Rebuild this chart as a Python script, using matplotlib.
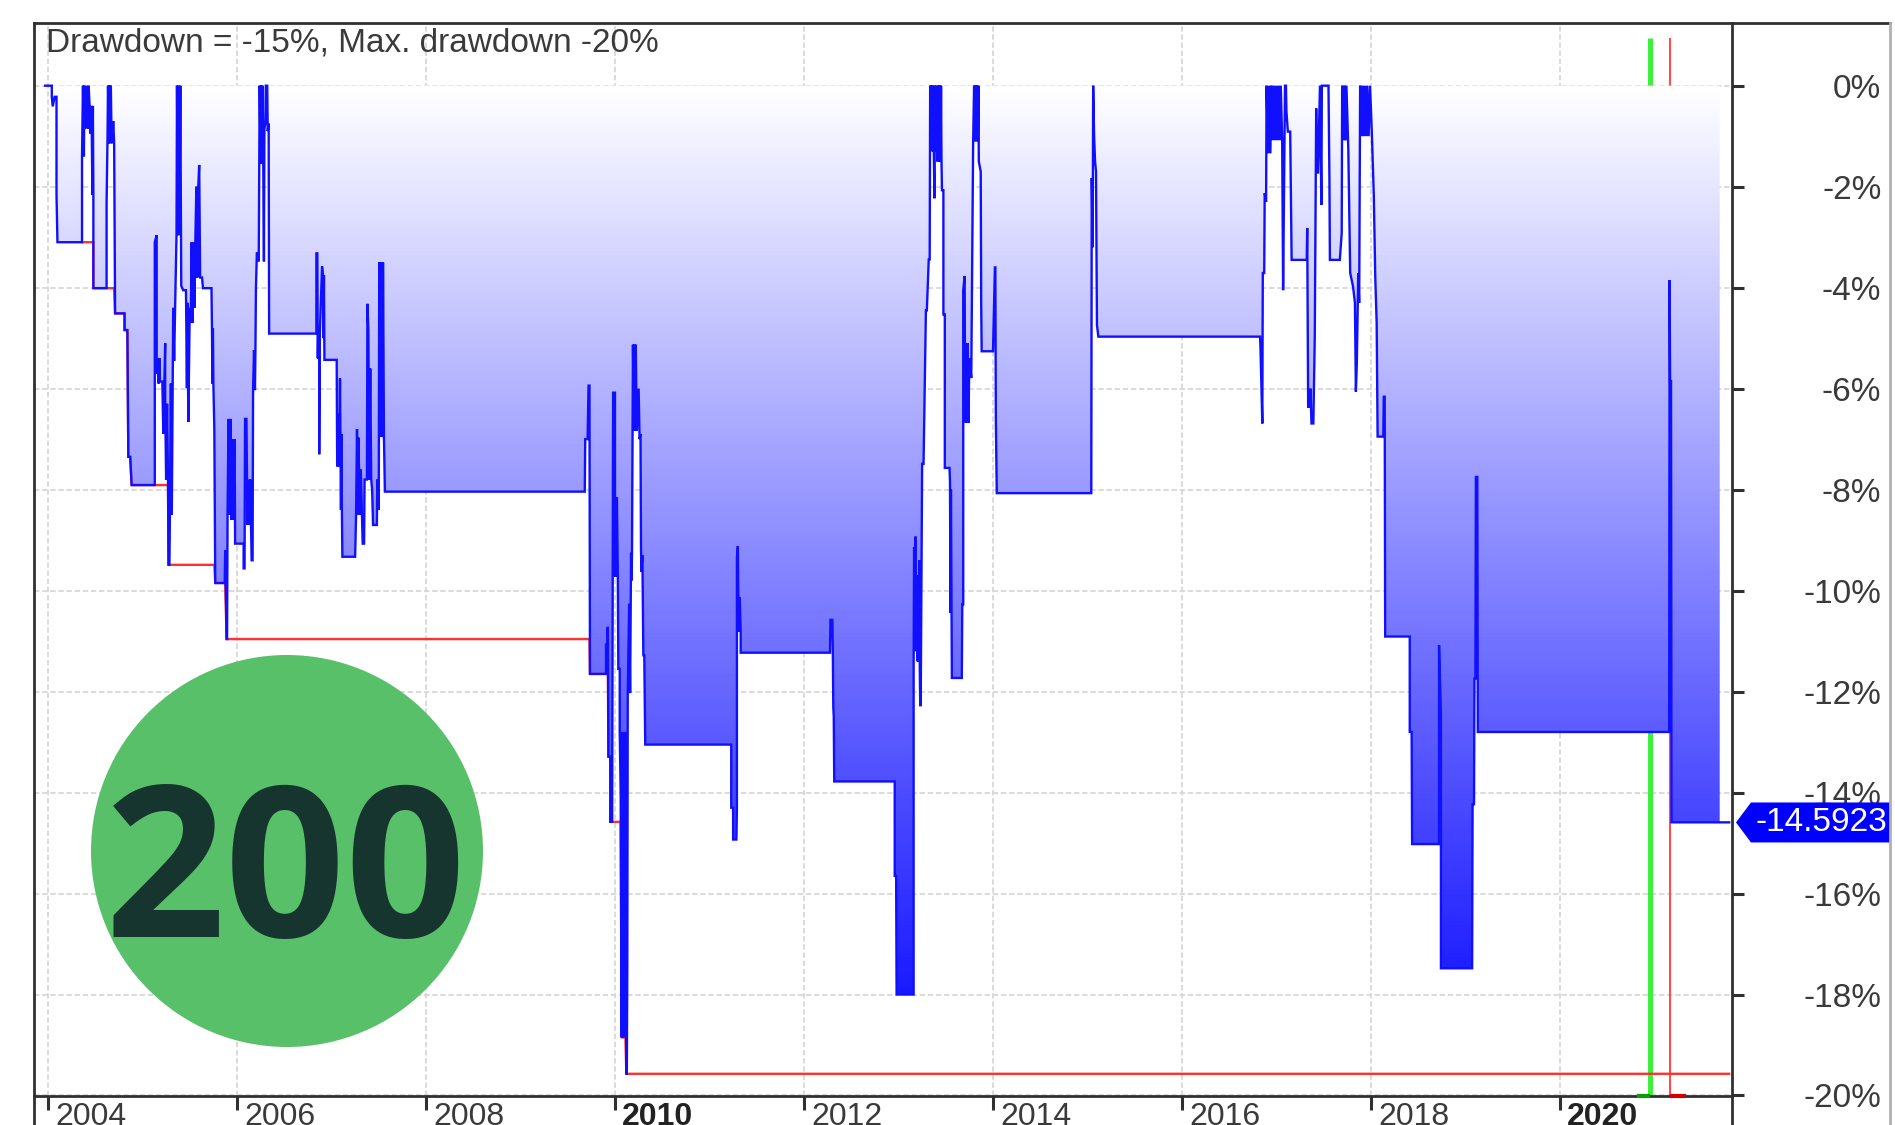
import numpy as np
import matplotlib
matplotlib.use('Agg')
import matplotlib.pyplot as plt
from matplotlib.colors import LinearSegmentedColormap
from matplotlib.patches import Circle, Polygon
from matplotlib.transforms import ScaledTranslation

plt.rcParams['font.family'] = ['Liberation Sans', 'DejaVu Sans']

# Drawdown curve, year / percent, one pair of lists per stretch
years_2004 = [2003.97, 2004.04, 2004.04, 2004.05, 2004.07, 2004.09, 2004.09, 2004.10, 2004.36, 2004.36,
              2004.37, 2004.38, 2004.385, 2004.40, 2004.41, 2004.425, 2004.43, 2004.44, 2004.45, 2004.46,
              2004.47, 2004.475, 2004.48, 2004.48, 2004.62, 2004.62, 2004.63, 2004.635, 2004.645, 2004.65,
              2004.66, 2004.665, 2004.67, 2004.68, 2004.69, 2004.70, 2004.71, 2004.81, 2004.81, 2004.84,
              2004.85, 2004.87, 2004.885]
values_2004 = [0, 0, -0.22, -0.41, -0.22, -0.22, -2.16, -3.10, -3.10, -1.40,
               0, -1.40, 0, -0.85, 0, -0.85, 0, -0.40, -0.95, -0.40,
               -2.16, -0.40, -2.16, -4.01, -4.01, -2.33, -1.0, 0, -1.14, 0,
               -1.14, 0, -0.7, -1.14, -0.7, -1.14, -4.51, -4.51, -4.84, -4.84,
               -7.35, -7.35, -7.91]

years_2005 = [2005.13, 2005.13, 2005.15, 2005.15, 2005.16, 2005.17, 2005.18, 2005.185, 2005.21, 2005.22,
              2005.24, 2005.24, 2005.25, 2005.26, 2005.27, 2005.275, 2005.285, 2005.29, 2005.30, 2005.31,
              2005.32, 2005.325, 2005.335, 2005.345, 2005.36, 2005.365, 2005.375, 2005.38, 2005.39, 2005.40,
              2005.41, 2005.43, 2005.46, 2005.47, 2005.475, 2005.485, 2005.50, 2005.51, 2005.52, 2005.53,
              2005.54, 2005.55, 2005.56, 2005.57, 2005.58, 2005.59, 2005.60, 2005.61, 2005.63, 2005.64,
              2005.73, 2005.735, 2005.74, 2005.745, 2005.75, 2005.76, 2005.77, 2005.87, 2005.875, 2005.89,
              2005.895]
values_2005 = [-7.91, -3.10, -2.96, -5.7, -5.4, -5.9, -5.4, -5.86, -5.86, -6.89,
               -5.1, -6.3, -7.8, -6.3, -7.8, -9.49, -9.49, -8.5, -5.9, -8.5,
               -5.9, -4.4, -5.45, -4.4, -2.96, 0, -2.96, 0, -2.96, 0,
               -3.96, -4.05, -4.05, -5.99, -4.3, -6.66, -4.4, -4.7, -3.1, -4.7,
               -3.1, -4.4, -3.0, -2.0, -3.8, -2.0, -1.57, -3.8, -3.8, -4.01,
               -4.01, -4.8, -5.9, -4.8, -5.9, -6.8, -9.85, -9.85, -9.2, -10.96,
               -10.96]

years_2006 = [2005.90, 2005.91, 2005.92, 2005.93, 2005.94, 2005.95, 2005.96, 2005.975, 2005.98, 2006.07,
              2006.07, 2006.08, 2006.085, 2006.10, 2006.11, 2006.12, 2006.135, 2006.14, 2006.155, 2006.165,
              2006.17, 2006.18, 2006.19, 2006.195, 2006.20, 2006.21, 2006.22, 2006.23, 2006.235, 2006.24,
              2006.25, 2006.255, 2006.26, 2006.27, 2006.275, 2006.285, 2006.29, 2006.30, 2006.305, 2006.32,
              2006.325, 2006.335, 2006.34, 2006.84, 2006.84, 2006.85, 2006.855, 2006.86, 2006.865, 2006.87,
              2006.87, 2006.875, 2006.90, 2006.91, 2006.915, 2006.92, 2006.925]
values_2006 = [-8.5, -6.6, -8.5, -6.6, -8.6, -7.0, -8.6, -7.0, -9.07, -9.07,
               -9.56, -9.56, -6.6, -6.6, -8.7, -7.8, -8.7, -7.8, -9.4, -9.4,
               -6.03, -5.24, -6.03, -5.24, -4.05, -3.32, -3.32, -3.48, -1.54, 0,
               -1.54, 0, -1.54, 0, -0.75, -3.48, -0.85, -0.75, 0, 0,
               -0.9, -0.75, -4.91, -4.91, -3.32, -3.32, -5.4, -4.8, -5.4, -4.8,
               -7.3, -5.0, -3.58, -3.75, -5.0, -3.75, -5.43]

years_2007 = [2007.055, 2007.06, 2007.07, 2007.08, 2007.09, 2007.10, 2007.105, 2007.11, 2007.115, 2007.25,
              2007.26, 2007.27, 2007.28, 2007.285, 2007.30, 2007.31, 2007.33, 2007.345, 2007.35, 2007.375,
              2007.38, 2007.39, 2007.40, 2007.41, 2007.42, 2007.43, 2007.44, 2007.48, 2007.485, 2007.50,
              2007.505, 2007.52, 2007.525, 2007.54, 2007.545, 2007.555, 2007.565]
values_2007 = [-5.43, -7.54, -6.5, -7.54, -5.8, -8.4, -6.9, -8.4, -9.33, -9.33,
               -8.5, -6.8, -8.5, -6.97, -8.5, -7.6, -9.07, -9.07, -7.8, -7.8,
               -4.32, -4.84, -7.8, -5.6, -7.8, -8.0, -8.7, -8.7, -7.8, -8.4,
               -3.5, -6.95, -3.5, -6.95, -3.5, -6.95, -8.04]

years_2009 = [2009.68, 2009.685, 2009.71, 2009.72, 2009.73, 2009.735, 2009.905, 2009.905, 2009.92, 2009.92,
              2009.925, 2009.93, 2009.95, 2009.95, 2009.97, 2009.98, 2010.0, 2010.0, 2010.01, 2010.015,
              2010.02, 2010.03, 2010.035, 2010.05, 2010.05, 2010.06, 2010.07, 2010.08, 2010.09, 2010.10,
              2010.105, 2010.11, 2010.12, 2010.125, 2010.13, 2010.135, 2010.15, 2010.16, 2010.17, 2010.175,
              2010.18, 2010.19, 2010.20, 2010.205, 2010.215, 2010.22, 2010.23, 2010.25, 2010.26, 2010.27,
              2010.275, 2010.28, 2010.29, 2010.30, 2010.31, 2010.32]
values_2009 = [-8.04, -7.0, -7.0, -5.94, -5.94, -11.65, -11.65, -11.07, -11.07, -10.74,
               -10.74, -13.29, -13.29, -14.58, -14.58, -6.08, -6.08, -9.73, -8.15, -9.73,
               -8.15, -9.73, -11.55, -11.55, -12.8, -14.0, -18.85, -12.8, -18.85, -12.8,
               -17.5, -12.8, -19.57, -19.57, -17.5, -12.03, -10.26, -12.03, -9.25, -9.8,
               -9.25, -5.13, -6.83, -5.13, -6.83, -5.13, -6.83, -6.0, -7.0, -6.9,
               -9.15, -9.63, -9.3, -11.28, -11.28, -13.05]

years_2011 = [2011.23, 2011.23, 2011.25, 2011.25, 2011.285, 2011.29, 2011.29, 2011.30, 2011.305, 2011.31,
              2011.32, 2011.33, 2011.33, 2012.275, 2012.28, 2012.30, 2012.305, 2012.31, 2012.315, 2012.32,
              2012.96, 2012.96, 2012.975, 2012.98, 2013.16]
values_2011 = [-13.05, -14.3, -14.3, -14.93, -14.93, -14.3, -9.35, -9.12, -10.13, -10.81,
               -10.13, -10.81, -11.23, -11.23, -10.58, -10.58, -11.23, -12.3, -12.5, -13.78,
               -13.78, -15.65, -15.65, -18.0, -18.0]

years_2013 = [2013.16, 2013.165, 2013.175, 2013.18, 2013.185, 2013.19, 2013.2, 2013.205, 2013.21, 2013.22,
              2013.225, 2013.23, 2013.235, 2013.25, 2013.265, 2013.29, 2013.30, 2013.32, 2013.33, 2013.335,
              2013.345, 2013.35, 2013.36, 2013.365, 2013.38, 2013.385, 2013.395, 2013.40, 2013.41, 2013.42,
              2013.43, 2013.435, 2013.445, 2013.45, 2013.455, 2013.46, 2013.475, 2013.475, 2013.49, 2013.49,
              2013.54, 2013.545, 2013.55, 2013.555, 2013.56, 2013.565, 2013.67, 2013.675, 2013.685, 2013.685,
              2013.70, 2013.705, 2013.71, 2013.72, 2013.73, 2013.74, 2013.75, 2013.77, 2013.79, 2013.80,
              2013.81, 2013.815, 2013.825, 2013.83, 2013.84, 2013.845, 2013.85, 2013.87, 2013.875, 2013.88,
              2014.0, 2014.02, 2014.025, 2014.03, 2014.04]
values_2013 = [-11.54, -9.14, -11.0, -8.93, -11.2, -9.7, -11.4, -9.7, -11.4, -9.4,
               -11.54, -12.27, -12.27, -7.49, -7.49, -4.45, -4.45, -3.44, -3.44, 0,
               -1.0, 0, -1.3, 0, -2.23, 0, -1.3, 0, -1.5, 0,
               -1.5, 0, -1.5, 0, -1.5, -2.07, -2.07, -4.53, -4.53, -7.57,
               -7.57, -7.85, -10.44, -8.0, -9.99, -11.73, -11.73, -10.27, -10.27, -4.05,
               -3.77, -6.68, -5.3, -6.68, -5.1, -6.68, -5.4, -5.79, -1.1, 0,
               -1.1, 0, -1.1, 0, -1.1, 0, -1.5, -1.7, -4.3, -5.26,
               -5.26, -3.6, -3.6, -6.6, -8.07]

years_2015 = [2015.04, 2015.045, 2015.055, 2015.06, 2015.07, 2015.08, 2015.09, 2015.10, 2015.115, 2016.826,
              2016.83, 2016.85, 2016.855, 2016.87, 2016.875, 2016.89, 2016.895, 2016.91, 2016.92, 2016.935,
              2016.945, 2016.96, 2016.97, 2016.985, 2016.995, 2017.01, 2017.02, 2017.035, 2017.045, 2017.06,
              2017.07, 2017.09, 2017.10, 2017.105, 2017.12, 2017.145, 2017.16, 2017.32, 2017.325, 2017.335,
              2017.35, 2017.36, 2017.37, 2017.39, 2017.405, 2017.42, 2017.43, 2017.44, 2017.46, 2017.475,
              2017.48, 2017.55, 2017.555, 2017.56, 2017.565, 2017.67, 2017.69, 2017.695, 2017.71, 2017.72,
              2017.73, 2017.74, 2017.76, 2017.78, 2017.81, 2017.83, 2017.84, 2017.85, 2017.865, 2017.875,
              2017.885, 2017.90, 2017.91, 2017.925, 2017.935, 2017.95, 2017.96, 2017.975, 2017.99, 2018.01,
              2018.03, 2018.045, 2018.06, 2018.07, 2018.13, 2018.135, 2018.145, 2018.15]
values_2015 = [-8.07, -1.83, -3.2, 0, -1.0, -1.5, -1.7, -4.74, -4.97, -4.97,
               -5.17, -6.69, -3.71, -3.71, -2.13, -2.3, 0, -1.34, 0, -1.34,
               0, -1.08, 0, -1.08, 0, -1.08, 0, -1.08, 0, -1.08,
               -4.05, 0, 0, -0.5, -0.91, -0.91, -3.45, -3.45, -2.82, -6.36,
               -6.36, -6.0, -6.69, -6.69, -4.97, -0.45, -1.72, -1.72, 0, -2.36,
               0, 0, -0.9, -1.83, -3.45, -3.45, -2.92, 0, -1.08, 0,
               -1.08, 0, -1.27, -3.71, -3.98, -4.3, -6.06, -5.5, -3.71, -4.3,
               0, -1.0, 0, -1.0, 0, -1.0, 0, -1.0, 0, -1.0,
               -2.2, -3.78, -4.7, -6.95, -6.95, -6.16, -6.16, -10.91]

years_2018 = [2018.41, 2018.41, 2018.43, 2018.435, 2018.72, 2018.72, 2018.74, 2018.74, 2019.07, 2019.075,
              2019.09, 2019.095, 2019.105, 2019.11, 2019.125, 2019.13, 2021.155, 2021.16, 2021.165, 2021.175,
              2021.18, 2021.79]
values_2018 = [-10.91, -12.8, -12.8, -15.02, -15.02, -11.08, -12.44, -17.48, -17.48, -14.23,
               -14.23, -11.74, -11.74, -7.75, -7.75, -12.8, -12.8, -3.85, -5.85, -5.85,
               -14.59, -14.59]

year_ticks = [2004, 2006, 2008, 2010, 2012, 2014, 2016, 2018, 2020]
bold_years = [2010, 2020]
pct_ticks = [0, -2, -4, -6, -8, -10, -12, -14, -16, -18, -20]

title = 'Drawdown = -15%, Max. drawdown -20%'
last_value = -14.5923
fill_end = 2021.69
buy_year = 2020.95
sell_year = 2021.16
badge_text = '200'

years = np.array(years_2004 + years_2005 + years_2006 + years_2007 + years_2009
                 + years_2011 + years_2013 + years_2015 + years_2018)
values = np.array(values_2004 + values_2005 + values_2006 + values_2007 + values_2009
                  + values_2011 + values_2013 + values_2015 + values_2018)

W, H = 1895, 1125
fig = plt.figure(figsize=(W / 100, H / 100), dpi=100, facecolor='white')

# Main panel, pixel box of the chart frame
left, right, top, bottom = 34, 1732, 23, 1096
ax = fig.add_axes([left / W, 1 - bottom / H, (right - left) / W, (bottom - top) / H])

# Green / red signal lines sit behind the fill
ax.plot([buy_year, buy_year], [-20.01, 0.95], color='#3cf03c', lw=3.6, zorder=1.5, solid_capstyle='butt')
ax.plot([sell_year, sell_year], [-20.01, 0.95], color='#ff4d4d', lw=1.5, zorder=1.5, solid_capstyle='butt')
ax.plot([buy_year - 0.14, buy_year], [-20.01, -20.01], color='#0a9a0a', lw=3, zorder=5,
        solid_capstyle='butt', clip_on=False)
ax.plot([sell_year, sell_year + 0.17], [-20.01, -20.01], color='#d00000', lw=3, zorder=5,
        solid_capstyle='butt', clip_on=False)

# Gradient fill between 0% and the curve
keep = years <= fill_end
fill_x = np.append(years[keep], fill_end)
fill_y = np.append(values[keep], values[-1])
shape = ax.fill_between(fill_x, fill_y, 0, facecolor='none', edgecolor='none')
cmap = LinearSegmentedColormap.from_list('fade', ['#ffffff', '#0000ff'])
im = ax.imshow(np.linspace(0, 1, 256).reshape(-1, 1), cmap=cmap, aspect='auto',
               extent=[2003, 2022, -20, 0], origin='upper', zorder=2)
im.set_clip_path(shape.get_paths()[0], transform=ax.transData)

# Running maximum drawdown, then the drawdown itself on top
start = np.searchsorted(years, 2004.36)
ax.plot(years[start:], np.minimum.accumulate(values)[start:], color='#ff3030', lw=1.7, zorder=3)
ax.plot(years, values, color='#1010ff', lw=1.7, zorder=4, solid_joinstyle='miter')

ax.set_xlim(2004 + (left - 48) / 94.5, 2004 + (right - 48) / 94.5)
ax.set_ylim(-20.01, (85.7 - top) / 50.5)

ax.grid(True, color='#d8d8d8', lw=1.3, ls=(0, (3, 1.5)), zorder=0)
ax.set_axisbelow(True)
for side in ['left', 'top', 'right', 'bottom']:
    ax.spines[side].set_color('#303030')
    ax.spines[side].set_linewidth(2)

ax.yaxis.tick_right()
ax.set_yticks(pct_ticks)
ax.set_yticklabels([f'{p}%' for p in pct_ticks], fontsize=24, color='#3a3a3a', ha='right')
ax.tick_params(axis='y', length=8.6, width=2.2, color='#303030', pad=99)

ax.set_xticks(year_ticks)
ax.set_xticklabels([str(y) for y in year_ticks], fontsize=23, color='#3a3a3a', ha='left')
ax.tick_params(axis='x', length=10, width=2.2, color='#303030', pad=-6)
shift = ScaledTranslation(7 / 100, 0, fig.dpi_scale_trans)
for label, y in zip(ax.get_xticklabels(), year_ticks):
    label.set_transform(label.get_transform() + shift)
    if y in bold_years:
        label.set_fontweight('bold')
        label.set_color('#222222')

# Everything outside the chart frame goes on a pixel overlay
over = fig.add_axes([0, 0, 1, 1], facecolor='none')
over.set_xlim(0, W)
over.set_ylim(H, 0)
over.axis('off')

over.plot([left, left], [bottom, H], color='#303030', lw=2)
over.plot([right, right], [bottom, H], color='#303030', lw=2)
over.plot([right, 1890], [top, top], color='#303030', lw=2)
over.plot([1890, 1890], [top, H], color='#b0b0b0', lw=2)

over.text(46, 43, title, fontsize=24, color='#3a3a3a', va='center', ha='left')

# Last value tag on the price axis
tag_y = H - ax.transData.transform((2020, last_value))[1]
over.add_patch(Polygon([(1736, tag_y), (1751, tag_y - 20), (1890, tag_y - 20), (1890, tag_y + 20),
                        (1751, tag_y + 20)], closed=True, facecolor='#0000ff', edgecolor='none'))
over.text(1887, tag_y, f'{last_value:.4f}', fontsize=24, color='white', va='center', ha='right')

# Badge
over.add_patch(Circle((287, 851), 196, facecolor='#58c069', edgecolor='none', zorder=10))
over.text(286, 857, badge_text, fontsize=152, fontweight='bold', family=['Open Sans', 'DejaVu Sans'],
          color='#16352f', ha='center', va='center_baseline', zorder=11)

fig.savefig('out.png', dpi=100)
